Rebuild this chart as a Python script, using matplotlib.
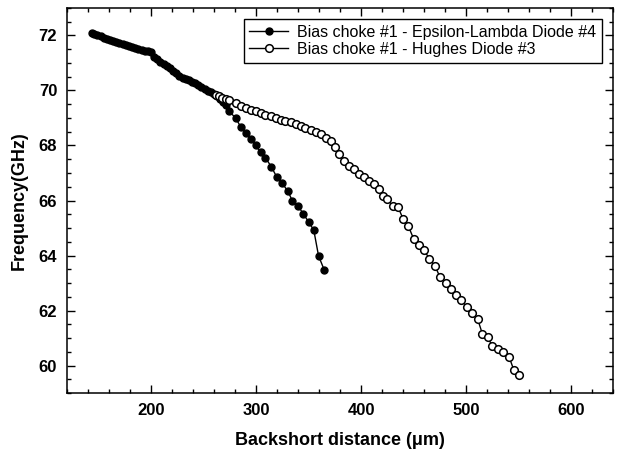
import matplotlib
matplotlib.use("Agg")
import matplotlib.pyplot as plt
from matplotlib.ticker import MultipleLocator

# Bias choke #1 - Epsilon-Lambda Diode #4 (filled)
el_x = [143.5, 146, 149, 152, 155, 158, 161, 164, 167, 170, 173, 176, 179, 182,
        185, 188, 191, 194, 197, 200, 203, 206, 209, 212, 215, 218, 221, 224,
        227, 230, 233, 236, 239, 242, 245, 248, 251, 254, 257, 260, 263, 266,
        268.5, 271, 274.5, 280.5, 285.5, 290, 295, 299.5, 304.5, 309, 314.5,
        319.5, 325, 330.5, 334.5, 340, 345, 350, 355, 359.5, 365]
el_y = [72.10, 72.05, 72.00, 71.96, 71.92, 71.87, 71.83, 71.79, 71.75, 71.72,
        71.69, 71.66, 71.63, 71.59, 71.55, 71.51, 71.48, 71.45, 71.42, 71.40,
        71.22, 71.15, 71.05, 70.97, 70.88, 70.80, 70.70, 70.62, 70.53, 70.45,
        70.40, 70.37, 70.32, 70.27, 70.20, 70.14, 70.06, 69.99, 69.93, 69.86,
        69.78, 69.70, 69.58, 69.48, 69.24, 69.00, 68.67, 68.46, 68.24, 68.00,
        67.75, 67.55, 67.23, 66.87, 66.62, 66.33, 65.99, 65.81, 65.51, 65.23,
        64.92, 63.99, 63.47]

# Bias choke #1 - Hughes Diode #3 (open)
hu_x = [262, 265, 268, 271, 274.5, 280.5, 285.5, 290, 295, 300, 304.5, 309,
        314, 319, 323.5, 328, 333, 338, 342.5, 347, 352, 357, 361.5, 366.5,
        371, 375, 379, 384, 388.5, 393, 398, 403, 407.5, 412.5, 417, 420.5,
        425, 430, 435, 440, 445, 450, 455, 460, 465, 470.5, 475, 480.5, 485.5,
        490, 495.5, 500.5, 505.5, 511, 515.5, 520.5, 525, 530.5, 535.5, 541,
        545.5, 550.5]
hu_y = [69.84, 69.78, 69.73, 69.69, 69.65, 69.54, 69.44, 69.36, 69.30, 69.24,
        69.18, 69.12, 69.06, 69.00, 68.94, 68.88, 68.84, 68.79, 68.72, 68.64,
        68.55, 68.48, 68.40, 68.28, 68.16, 67.95, 67.68, 67.43, 67.25, 67.14,
        66.95, 66.84, 66.71, 66.59, 66.40, 66.17, 66.05, 65.80, 65.78, 65.33,
        65.07, 64.61, 64.37, 64.19, 63.89, 63.61, 63.23, 63.02, 62.79, 62.57,
        62.39, 62.13, 61.91, 61.69, 61.15, 61.03, 60.71, 60.59, 60.50, 60.31,
        59.83, 59.66]

plt.rcParams["font.family"] = ["Liberation Sans", "DejaVu Sans"]

fig = plt.figure(figsize=(6.2, 4.62), dpi=100)
ax = fig.add_axes([0.108, 0.149, 0.881, 0.834])

ax.plot(el_x, el_y, color="black", lw=1.0, marker="o", ms=5,
        mfc="black", mec="black", label="Bias choke #1 - Epsilon-Lambda Diode #4")
ax.plot(hu_x, hu_y, color="black", lw=1.0, marker="o", ms=5.5,
        mfc="white", mec="black", mew=1.1, label="Bias choke #1 - Hughes Diode #3")

ax.set_xlim(120, 640)
ax.set_ylim(59, 73)
ax.xaxis.set_major_locator(MultipleLocator(100))
ax.xaxis.set_minor_locator(MultipleLocator(20))
ax.yaxis.set_major_locator(MultipleLocator(2))
ax.yaxis.set_minor_locator(MultipleLocator(0.5))
ax.tick_params(which="both", direction="in", top=True, right=True, width=1)
ax.tick_params(which="major", length=6, labelsize=12, pad=7)
ax.tick_params(which="minor", length=3)
for lbl in ax.get_xticklabels() + ax.get_yticklabels():
    lbl.set_fontweight("bold")
for sp in ax.spines.values():
    sp.set_linewidth(1.1)

ax.set_xlabel("Backshort distance (\u03bcm)", fontsize=13, fontweight="bold", labelpad=10)
ax.set_ylabel("Frequency(GHz)", fontsize=13, fontweight="bold", labelpad=8)

leg = ax.legend(loc="upper right", fontsize=11.5, fancybox=False, framealpha=1,
                edgecolor="black", borderaxespad=0.7, handlelength=2.4,
                handletextpad=0.6, labelspacing=0.15, borderpad=0.35)
leg.get_frame().set_linewidth(1.0)

fig.savefig("out.png", dpi=100)
